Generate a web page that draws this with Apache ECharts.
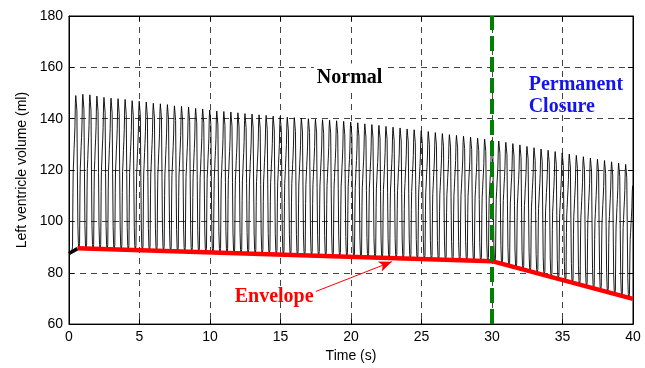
<!DOCTYPE html>
<html><head><meta charset="utf-8">
<script src="https://cdn.jsdelivr.net/npm/echarts@6/dist/echarts.min.js"></script>
<style>html,body{margin:0;padding:0;background:#fff}#c{width:645px;height:368px}</style>
</head><body><div id="c"></div>
<script>
// ---- data ----
const beatPeriod = 0.5;          // s, one heart beat
const firstPeakTime = 0.5;       // s, first end-diastolic peak
const leadIn = [[0, 87.6], [0.2, 88.3]];   // record start before the first beat
const peaks = [
 149.0,149.5,149.3,148.8,148.3,148.0,147.8,147.5,147.0,146.8,
 146.5,146.0,145.8,145.5,145.0,144.8,144.5,144.0,143.8,143.4,
 143.0,142.8,142.6,142.3,142.0,141.8,141.5,141.3,141.0,140.8,
 140.6,140.4,140.2,140.0,139.8,139.6,139.4,139.2,139.0,138.7,
 138.4,138.0,137.7,137.4,137.0,136.7,136.4,136.0,135.7,135.3,
 135.0,134.6,134.2,133.8,133.5,133.2,132.8,132.4,132.0,131.6,
 131.3,130.8,130.3,129.8,129.2,128.7,128.2,127.7,127.2,126.7,
 126.2,125.7,125.2,124.7,124.2,123.7,123.2,122.7,122.2];
const troughs = [
 89.5,89.4,89.3,89.2,89.1,89.1,89.0,88.9,88.8,88.7,
 88.6,88.5,88.5,88.4,88.3,88.2,88.1,88.0,87.9,87.9,
 87.8,87.7,87.6,87.5,87.4,87.3,87.3,87.2,87.1,87.0,
 86.9,86.8,86.7,86.7,86.6,86.5,86.4,86.3,86.2,86.1,
 86.1,86.0,85.9,85.8,85.7,85.6,85.5,85.5,85.4,85.3,
 85.2,85.1,85.0,84.9,84.9,84.8,84.7,84.6,84.5,84.2,
 83.5,82.7,82.0,81.3,80.5,79.8,79.1,78.3,77.6,76.9,
 76.1,75.4,74.7,73.9,73.2,72.5,71.7,71.0,70.3];
const endValue = 114;            // volume at t = 40 s
// one beat: [phase of beat, fraction between trough (0) and peak (1)]
const cycleShape = [
 [0.00,1.00],[0.07,0.99],[0.12,0.90],[0.19,0.50],[0.26,0.15],[0.33,0.03],[0.40,0.00],
 [0.50,0.03],[0.56,0.38],[0.60,0.52],[0.66,0.58],[0.72,0.66],[0.78,0.72],[0.84,0.80],
 [0.90,0.95],[0.96,1.00]];
const troughPhase = 0.40;
const envelope = [[0.6, 89.5], [30, 84.5], [40, 69.8]];
const startSegment = [[0, 87.5], [0.6, 89.4]];
const closureTime = 30;
const arrowFrom = [17.5, 72.7], arrowTo = [22.9, 84.3];
const labels = [
  {text: 'Normal', at: [19.9, 156], color: '#000000', align: 'center', bg: '#ffffff'},
  {text: 'Permanent\nClosure', at: [32.6, 149], color: '#1414ee', align: 'left', bg: null},
  {text: 'Envelope', at: [14.55, 70.5], color: '#ff0000', align: 'center', bg: null}
];

// ---- build waveform from the beat values ----
const wave = leadIn.map(p => p.slice());
const leadLevel = leadIn[leadIn.length - 1][1];
for (const [ph, f] of cycleShape) {
  if (ph > troughPhase) wave.push([firstPeakTime - beatPeriod + ph * beatPeriod, leadLevel + f * (peaks[0] - leadLevel)]);
}
const N = peaks.length;
for (let k = 0; k < N; k++) {
  const t0 = firstPeakTime + k * beatPeriod, P = peaks[k], T = troughs[k];
  const Pn = k + 1 < N ? peaks[k + 1] : endValue;
  for (const [ph, f] of cycleShape) {
    const v = ph <= troughPhase ? T + f * (P - T) : T + f * (Pn - T);
    wave.push([t0 + ph * beatPeriod, v]);
  }
}
wave.push([firstPeakTime + N * beatPeriod, endValue]);

const FONT = 'Liberation Sans';
const chart = echarts.init(document.getElementById('c'), null, {renderer: 'canvas'});
const option = {
  animation: false,
  backgroundColor: '#ffffff',
  grid: {left: 69, top: 16, right: 12, bottom: 39, show: true, borderColor: '#000', borderWidth: 1},
  xAxis: [{
    type: 'value', min: 0, max: 40, interval: 5,
    name: 'Time (s)', nameLocation: 'middle', nameGap: 22,
    nameTextStyle: {fontFamily: FONT, fontSize: 14, color: '#000'},
    axisLine: {show: true, onZero: false, lineStyle: {color: '#000', width: 1}},
    axisTick: {show: true, inside: true, length: 5, lineStyle: {color: '#000'}},
    axisLabel: {fontFamily: FONT, fontSize: 14, color: '#000', margin: 6},
    splitLine: {show: true, lineStyle: {color: '#444', width: 1, type: [6, 5]}}
  }, {
    type: 'value', min: 0, max: 40, interval: 5, position: 'top',
    axisLine: {show: true, onZero: false, lineStyle: {color: '#000'}},
    axisTick: {show: true, inside: true, length: 5, lineStyle: {color: '#000'}},
    axisLabel: {show: false}, splitLine: {show: false}
  }],
  yAxis: [{
    type: 'value', min: 60, max: 180, interval: 20,
    name: 'Left ventricle volume (ml)', nameLocation: 'middle', nameGap: 40,
    nameTextStyle: {fontFamily: FONT, fontSize: 14, color: '#000'},
    axisLine: {show: true, onZero: false, lineStyle: {color: '#000', width: 1}},
    axisTick: {show: true, inside: true, length: 5, lineStyle: {color: '#000'}},
    axisLabel: {fontFamily: FONT, fontSize: 14, color: '#000', margin: 6},
    splitLine: {show: true, lineStyle: {color: '#444', width: 1, type: [6, 5]}}
  }, {
    type: 'value', min: 60, max: 180, interval: 20, position: 'right',
    axisLine: {show: true, onZero: false, lineStyle: {color: '#000'}},
    axisTick: {show: true, inside: true, length: 5, lineStyle: {color: '#000'}},
    axisLabel: {show: false}, splitLine: {show: false}
  }],
  series: [
    {type: 'line', data: wave, showSymbol: false, symbol: 'none', sampling: null, clip: true, z: 2,
     lineStyle: {color: '#000', width: 0.9}},
    {type: 'line', data: startSegment, showSymbol: false, symbol: 'none', z: 3,
     lineStyle: {color: '#000', width: 3.5}},
    {type: 'line', data: envelope, showSymbol: false, symbol: 'none', z: 4,
     lineStyle: {color: '#ff0000', width: 4.5},
     markLine: {silent: true, symbol: ['none', 'arrow'], symbolSize: [8, 13], animation: false,
       label: {show: false}, lineStyle: {color: '#ff0000', width: 1, type: 'solid'},
       data: [[{coord: arrowFrom}, {coord: arrowTo}]]}},
    {type: 'line', data: [], z: 6,
     markLine: {silent: true, symbol: ['none', 'none'], animation: false, label: {show: false},
       lineStyle: {color: '#008000', width: 4, type: [15, 6]},
       data: [{xAxis: closureTime}]}}
  ]
};
chart.setOption(option);
const g = labels.map(l => {
  const p = chart.convertToPixel({gridIndex: 0}, l.at);
  const st = {text: l.text, fill: l.color, font: 'bold 20px "Liberation Serif"',
    align: l.align, verticalAlign: 'middle', lineHeight: 22};
  if (l.bg) { st.backgroundColor = l.bg; st.padding = [3, 3]; }
  return {type: 'text', x: p[0], y: p[1], z: 10, style: st};
});
chart.setOption({graphic: g});
</script></body></html>
